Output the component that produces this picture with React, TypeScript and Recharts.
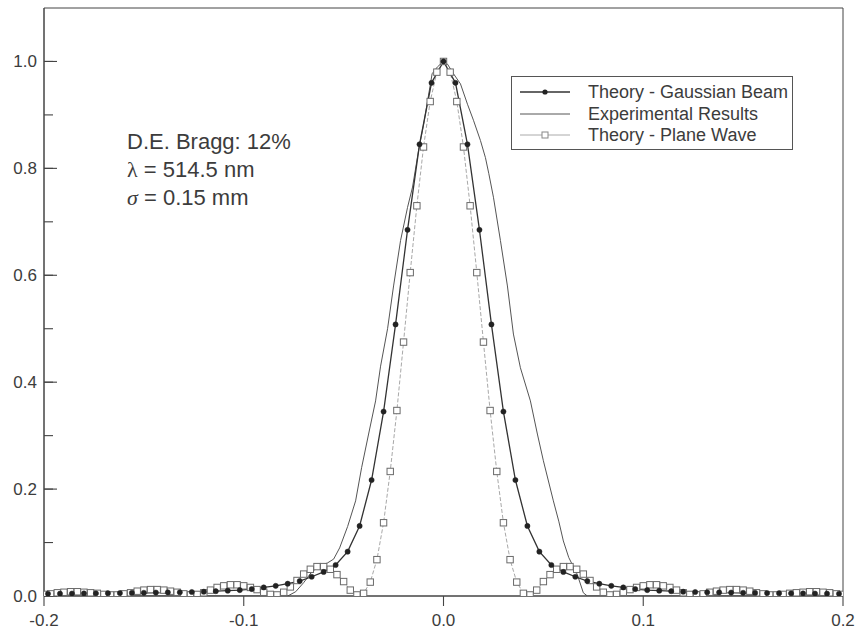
import React from 'react';
import { LineChart, Line, XAxis, YAxis, ReferenceArea, Legend } from 'recharts';

// ---------- data ----------
const GAUSS_START = -0.198;
const GAUSS_STEP = 0.006;
const gaussianY = [
  0.0042, 0.0044, 0.0046, 0.0048, 0.005, 0.0052, 0.0055, 0.0058, 0.006, 0.0065,
  0.0068, 0.007, 0.0075, 0.008, 0.009, 0.010, 0.011, 0.013, 0.016, 0.019,
  0.023, 0.028, 0.036, 0.045, 0.058, 0.083, 0.131, 0.217, 0.345, 0.508,
  0.685, 0.845, 0.96,
  1.0,
  0.96, 0.845, 0.685, 0.508, 0.345, 0.217, 0.131, 0.083, 0.058, 0.045,
  0.036, 0.028, 0.023, 0.019, 0.016, 0.013, 0.011, 0.010, 0.009, 0.008,
  0.0075, 0.007, 0.0068, 0.0065, 0.006, 0.0058, 0.0055, 0.0052, 0.005, 0.0048,
  0.0046, 0.0044, 0.0042,
];

const PLANE_START = -0.2;
const PLANE_STEP = 0.2 / 60;
const planeY = [
  0.003, 0.004, 0.006, 0.007, 0.008, 0.008, 0.007, 0.006, 0.005, 0.003,
  0.002, 0.002, 0.004, 0.006, 0.009, 0.011, 0.012, 0.012, 0.011, 0.009,
  0.007, 0.004, 0.002, 0.003, 0.006, 0.011, 0.016, 0.019, 0.021, 0.021,
  0.019, 0.016, 0.012, 0.007, 0.003, 0.002, 0.007, 0.017, 0.029, 0.041,
  0.050, 0.055, 0.055, 0.050, 0.040, 0.027, 0.011, 0.002, 0.005, 0.026,
  0.068, 0.137, 0.233, 0.347, 0.475, 0.605, 0.73, 0.84, 0.925, 0.98,
  1.0,
  0.98, 0.925, 0.84, 0.73, 0.605, 0.475, 0.347, 0.233, 0.137, 0.068,
  0.026, 0.005, 0.002, 0.011, 0.027, 0.040, 0.050, 0.055, 0.055, 0.050,
  0.041, 0.029, 0.017, 0.007, 0.002, 0.003, 0.007, 0.012, 0.016, 0.019,
  0.021, 0.021, 0.019, 0.016, 0.011, 0.006, 0.003, 0.002, 0.004, 0.007,
  0.009, 0.011, 0.012, 0.012, 0.011, 0.009, 0.006, 0.004, 0.002, 0.002,
  0.003, 0.005, 0.006, 0.007, 0.008, 0.008, 0.007, 0.006, 0.004, 0.003,
];

const expX = [
  -0.2, -0.078, -0.074, -0.07, -0.066, -0.062, -0.058, -0.055, -0.052, -0.048,
  -0.044, -0.041, -0.0375, -0.034, -0.0315, -0.028, -0.025, -0.0215, -0.018, -0.0155,
  -0.0125, -0.0099, -0.0057, -0.003, 0.0, 0.002, 0.005, 0.0085, 0.012, 0.015,
  0.0185, 0.021, 0.0227, 0.025, 0.0285, 0.032, 0.035, 0.0385, 0.0435, 0.047,
  0.05, 0.055, 0.0577, 0.06, 0.0627, 0.067, 0.07, 0.072, 0.2,
];
const expY = [
  0, 0, 0.008, 0.025, 0.045, 0.056, 0.062, 0.069, 0.09, 0.13,
  0.178, 0.24, 0.303, 0.365, 0.43, 0.5, 0.58, 0.665, 0.727, 0.765,
  0.833, 0.883, 0.977, 0.99, 1.0, 0.995, 0.977, 0.958, 0.92, 0.89,
  0.852, 0.82, 0.79, 0.746, 0.665, 0.58, 0.49, 0.427, 0.365, 0.303,
  0.253, 0.178, 0.14, 0.103, 0.072, 0.04, 0.006, 0, 0,
];

const xMajorTicks = [-0.2, -0.1, 0, 0.1, 0.2];
const xMinorTicks = [
  -0.2, -0.18, -0.16, -0.14, -0.12, -0.1, -0.08, -0.06, -0.04, -0.02, 0,
  0.02, 0.04, 0.06, 0.08, 0.1, 0.12, 0.14, 0.16, 0.18, 0.2,
];
const yMajorTicks = [0, 0.2, 0.4, 0.6, 0.8, 1.0];
const yMinorTicks = [0, 0.1, 0.2, 0.3, 0.4, 0.5, 0.6, 0.7, 0.8, 0.9, 1.0];

const seriesNames = ['Theory - Gaussian Beam', 'Experimental Results', 'Theory - Plane Wave'];
const annotationLines = ['D.E. Bragg: 12%', '514.5 nm', '0.15 mm'];

// ---------- build ----------
const gaussianData = gaussianY.map((y, i) => ({ x: +(GAUSS_START + i * GAUSS_STEP).toFixed(5), y }));
const planeData = planeY.map((y, i) => ({ x: +(PLANE_START + i * PLANE_STEP).toFixed(5), y }));
const expData = expX.map((x, i) => ({ x, y: expY[i] }));

const FONT = "'Liberation Sans', Arial, Helvetica, sans-serif";
const TEXT = '#3c3c3c';
const AXIS = '#444';

const fmt = (v: number) => v.toFixed(1);
const tickStyle = { fontSize: 17, fill: TEXT, fontFamily: FONT };
const tickLineStyle = { stroke: AXIS, strokeWidth: 1.1 };
const EmptyTick = () => <g />;

const SquareDot = (props: any) => {
  const { cx, cy, index } = props;
  if (cx == null || cy == null) return <g key={`sq-${index}`} />;
  return (
    <rect key={`sq-${index}`} x={cx - 3.2} y={cy - 3.2} width={6.4} height={6.4} fill="#fff" stroke="#6a6a6a" strokeWidth={1} />
  );
};

const renderLegend = () => {
  const rows = [
    { name: seriesNames[0], kind: 'gauss' },
    { name: seriesNames[1], kind: 'exp' },
    { name: seriesNames[2], kind: 'plane' },
  ];
  return (
    <div
      style={{
        position: 'relative',
        width: 282,
        height: 74,
        border: '1.5px solid #555',
        boxSizing: 'border-box',
        background: '#fff',
        fontFamily: FONT,
      }}
    >
      {rows.map((r, i) => (
        <div key={r.name} style={{ position: 'absolute', left: 0, top: 4 + i * 21.5, height: 22, width: 280 }}>
          <svg width={70} height={22} style={{ position: 'absolute', left: 0, top: 0 }}>
            {r.kind === 'gauss' && (
              <g>
                <line x1={8} x2={58} y1={11} y2={11} stroke="#333" strokeWidth={1.3} />
                <circle cx={33} cy={11} r={2.6} fill="#222" />
              </g>
            )}
            {r.kind === 'exp' && <line x1={8} x2={58} y1={11} y2={11} stroke="#555" strokeWidth={1} />}
            {r.kind === 'plane' && (
              <g>
                <line x1={8} x2={58} y1={11} y2={11} stroke="#aaa" strokeWidth={1} />
                <rect x={30} y={8} width={6} height={6} fill="#fff" stroke="#888" />
              </g>
            )}
          </svg>
          <span
            style={{
              position: 'absolute',
              left: 76,
              top: 0,
              lineHeight: '22px',
              fontSize: 18,
              color: TEXT,
              whiteSpace: 'nowrap',
            }}
          >
            {r.name}
          </span>
        </div>
      ))}
    </div>
  );
};

export default function App() {
  return (
    <div style={{ position: 'absolute', left: 0, top: 0, width: 859, height: 636, background: '#fff' }}>
      <LineChart width={859} height={636} margin={{ top: 8, right: 16, bottom: 0, left: 0 }}>
        <ReferenceArea x1={-0.2} x2={0.2} y1={0} y2={1.1} fill="none" fillOpacity={0} stroke={AXIS} strokeWidth={1} ifOverflow="visible" />
        {/* minor tick axes, mirrored so they take no layout space */}
        <XAxis
          xAxisId="minor"
          type="number"
          domain={[-0.2, 0.2]}
          ticks={xMinorTicks}
          interval={0}
          mirror
          tick={<EmptyTick />}
          tickLine={tickLineStyle}
          tickSize={-6}
          axisLine={false}
          height={10}
          allowDataOverflow
        />
        <YAxis
          yAxisId="minor"
          type="number"
          domain={[0, 1.1]}
          ticks={yMinorTicks}
          interval={0}
          mirror
          tick={<EmptyTick />}
          tickLine={tickLineStyle}
          tickSize={9}
          axisLine={false}
          width={10}
          allowDataOverflow
        />
        {/* major axes with labels */}
        <XAxis
          type="number"
          dataKey="x"
          domain={[-0.2, 0.2]}
          ticks={xMajorTicks}
          interval={0}
          tickFormatter={fmt}
          tick={tickStyle}
          tickLine={tickLineStyle}
          tickSize={10}
          tickMargin={8}
          axisLine={{ stroke: AXIS }}
          height={40}
          allowDataOverflow
        />
        <YAxis
          type="number"
          domain={[0, 1.1]}
          ticks={yMajorTicks}
          interval={0}
          tickFormatter={fmt}
          tick={tickStyle}
          tickLine={tickLineStyle}
          tickSize={-13}
          tickMargin={20}
          axisLine={{ stroke: AXIS }}
          width={44}
          allowDataOverflow
        />
        <Line
          data={planeData}
          dataKey="y"
          name={seriesNames[2]}
          stroke="#a8a8a8"
          strokeWidth={1}
          strokeDasharray="4 2"
          dot={SquareDot}
          activeDot={false}
          isAnimationActive={false}
          type="linear"
        />
        <Line
          data={expData}
          dataKey="y"
          name={seriesNames[1]}
          stroke="#555"
          strokeWidth={1}
          dot={false}
          activeDot={false}
          isAnimationActive={false}
          type="linear"
        />
        <Line
          data={gaussianData}
          dataKey="y"
          name={seriesNames[0]}
          stroke="#333"
          strokeWidth={1.3}
          dot={{ r: 2.6, fill: '#222', stroke: '#222', strokeWidth: 0.5 }}
          activeDot={false}
          isAnimationActive={false}
          type="linear"
        />
        <Legend
          layout="vertical"
          align="center"
          verticalAlign="middle"
          content={renderLegend}
          wrapperStyle={{ position: 'absolute', left: 511, top: 76, width: 282, height: 74 }}
        />
      </LineChart>
      <div
        style={{
          position: 'absolute',
          left: 127,
          top: 128,
          fontFamily: FONT,
          fontSize: 22,
          lineHeight: '28px',
          color: TEXT,
          whiteSpace: 'nowrap',
        }}
      >
        <div>{annotationLines[0]}</div>
        <div>
          <span style={{ fontFamily: "'Liberation Serif', serif" }}>λ</span> = {annotationLines[1]}
        </div>
        <div>
          <span style={{ fontFamily: "'Liberation Serif', serif", fontStyle: 'italic' }}>σ</span> = {annotationLines[2]}
        </div>
      </div>
    </div>
  );
}
